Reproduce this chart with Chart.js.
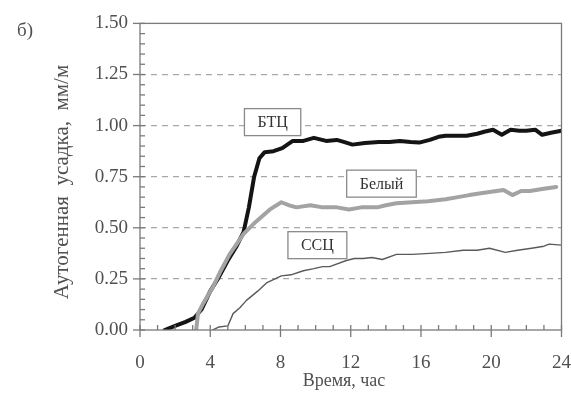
<!DOCTYPE html>
<html>
<head>
<meta charset="utf-8">
<script src="https://cdn.jsdelivr.net/npm/chart.js@4"></script>
<style>
  body { margin: 0; background: #fff; }
  #wrap { width: 571px; height: 403px; }
</style>
</head>
<body>
<div id="wrap"><canvas id="chart" width="571" height="403"></canvas></div>
<script>
// Аутогенная усадка по времени
const btcHours  = [1.4, 2.0, 2.6, 3.1, 3.5, 4.0, 4.5, 5.0, 5.5, 5.9, 6.2, 6.5, 6.8, 7.1, 7.6, 8.1, 8.7, 9.3, 9.9, 10.6, 11.2, 11.6, 12.1, 12.8, 13.6, 14.2, 14.8, 15.4, 15.9, 16.5, 17.0, 17.4, 18.0, 18.6, 19.2, 19.6, 20.1, 20.6, 21.1, 21.6, 22.0, 22.5, 22.9, 23.4, 24.0];
const btcValues = [0.00, 0.02, 0.04, 0.06, 0.10, 0.19, 0.26, 0.34, 0.41, 0.48, 0.60, 0.75, 0.84, 0.87, 0.875, 0.89, 0.925, 0.925, 0.94, 0.925, 0.93, 0.92, 0.907, 0.915, 0.92, 0.92, 0.925, 0.92, 0.917, 0.93, 0.945, 0.95, 0.95, 0.95, 0.96, 0.97, 0.98, 0.955, 0.98, 0.975, 0.975, 0.98, 0.955, 0.965, 0.975];

const whiteHours  = [3.2, 3.3, 3.6, 4.15, 4.6, 5.1, 5.5, 5.9, 6.6, 7.4, 8.05, 8.5, 8.9, 9.7, 10.4, 11.2, 11.9, 12.6, 13.5, 14.0, 14.6, 15.5, 16.4, 17.4, 18.1, 18.75, 19.5, 20.3, 20.7, 21.2, 21.7, 22.2, 22.9, 23.7];
const whiteValues = [0.00, 0.08, 0.13, 0.21, 0.29, 0.37, 0.42, 0.47, 0.53, 0.59, 0.625, 0.61, 0.60, 0.61, 0.60, 0.60, 0.59, 0.60, 0.60, 0.61, 0.62, 0.625, 0.63, 0.64, 0.65, 0.66, 0.67, 0.68, 0.685, 0.66, 0.68, 0.68, 0.69, 0.70];

const sscHours  = [4.15, 4.5, 5.0, 5.3, 5.7, 6.06, 6.7, 7.2, 8.05, 8.6, 9.3, 9.9, 10.4, 10.8, 11.75, 12.2, 12.7, 13.2, 13.8, 14.6, 15.5, 16.5, 17.4, 18.4, 19.2, 19.9, 20.8, 21.5, 22.3, 23.0, 23.3, 24.0];
const sscValues = [0.00, 0.015, 0.02, 0.08, 0.11, 0.145, 0.19, 0.23, 0.265, 0.27, 0.29, 0.30, 0.31, 0.31, 0.34, 0.35, 0.35, 0.355, 0.345, 0.37, 0.37, 0.375, 0.38, 0.39, 0.39, 0.40, 0.38, 0.39, 0.40, 0.41, 0.42, 0.415];

// подписи кривых (в единицах осей)
const curveLabels = ['БТЦ', 'Белый', 'ССЦ'];
const curveLabelX = [7.55, 13.75, 10.1];
const curveLabelY = [1.017, 0.716, 0.415];

const xTitle = 'Время, час';
const yTitle = 'Аутогенная  усадка,  мм/м';
const panelTag = 'б)';

const SERIF = '"Liberation Serif", "DejaVu Serif", serif';
const AXIS = '#7a7a7a';
const TEXT = '#505050';
const NONE = 'rgba(0,0,0,0)';

function toPoints(xs, ys) {
    return xs.map((v, i) => ({ x: v, y: ys[i] }));
}

const decor = {
    id: 'decor',
    afterDraw(chart) {
        const { ctx, chartArea: a, scales: { x, y } } = chart;
        ctx.save();

        // рамка
        ctx.strokeStyle = AXIS;
        ctx.lineWidth = 1.3;
        ctx.strokeRect(a.left, a.top, a.right - a.left, a.bottom - a.top);

        // засечки по X: каждый час, главные через 4
        for (let h = 0; h <= 24; h++) {
            const px = x.getPixelForValue(h);
            const major = h % 4 === 0;
            ctx.beginPath();
            ctx.moveTo(px, a.bottom + (major ? 7 : 0));
            ctx.lineTo(px, a.bottom - 5);
            ctx.stroke();
        }
        // засечки по Y: через 0.05, главные через 0.25
        for (let i = 0; i <= 30; i++) {
            const py = y.getPixelForValue(i * 0.05);
            const major = i % 5 === 0;
            ctx.beginPath();
            ctx.moveTo(a.left - (major ? 7 : 0), py);
            ctx.lineTo(a.left + 5, py);
            ctx.stroke();
        }

        // подписи в рамках
        ctx.font = '16px ' + SERIF;
        ctx.textAlign = 'center';
        ctx.textBaseline = 'middle';
        curveLabels.forEach((t, i) => {
            const cx = x.getPixelForValue(curveLabelX[i]);
            const cy = y.getPixelForValue(curveLabelY[i]);
            const w = ctx.measureText(t).width + 26;
            const h = 27;
            ctx.fillStyle = '#fff';
            ctx.fillRect(cx - w / 2, cy - h / 2, w, h);
            ctx.strokeStyle = '#8a8a8a';
            ctx.lineWidth = 1.3;
            ctx.strokeRect(cx - w / 2, cy - h / 2, w, h);
            ctx.fillStyle = '#333';
            ctx.fillText(t, cx, cy + 1);
        });

        // заголовки осей
        ctx.fillStyle = TEXT;
        ctx.font = '18px ' + SERIF;
        ctx.fillText(xTitle, 344, 381);
        ctx.font = '19px ' + SERIF;
        ctx.fillText(panelTag, 25, 31);

        ctx.save();
        ctx.translate(62, 182);
        ctx.rotate(-Math.PI / 2);
        ctx.font = '21px ' + SERIF;
        ctx.fillText(yTitle, 0, 0);
        ctx.restore();

        ctx.restore();
    }
};

new Chart(document.getElementById('chart'), {
    type: 'line',
    data: {
        datasets: [{
            label: 'ССЦ',
            data: toPoints(sscHours, sscValues),
            borderColor: '#5a5a5a',
            borderWidth: 1.4
        }, {
            label: 'Белый',
            data: toPoints(whiteHours, whiteValues),
            borderColor: '#a3a3a3',
            borderWidth: 4
        }, {
            label: 'БТЦ',
            data: toPoints(btcHours, btcValues),
            borderColor: '#141414',
            borderWidth: 4
        }]
    },
    options: {
        responsive: false,
        animation: false,
        layout: { padding: { left: 0, top: 19, right: 9, bottom: 0 } },
        elements: {
            point: { radius: 0 },
            line: { tension: 0, fill: false, borderJoinStyle: 'round', borderCapStyle: 'round' }
        },
        plugins: {
            legend: { display: false },
            tooltip: { enabled: false }
        },
        scales: {
            x: {
                type: 'linear',
                min: 0,
                max: 24,
                afterFit: (s) => { s.height = 73; },
                grid: { color: NONE, tickColor: NONE, drawTicks: true, tickLength: 22 },
                border: { display: false },
                ticks: {
                    stepSize: 4,
                    padding: 0,
                    color: TEXT,
                    font: { family: SERIF, size: 19 }
                }
            },
            y: {
                min: 0,
                max: 1.5,
                afterFit: (s) => { s.width = 140; },
                grid: {
                    drawTicks: false,
                    color: (c) => (c.tick && (c.tick.value === 0 || c.tick.value === 1.5)) ? NONE : '#a8a8a8',
                    lineWidth: 1.2
                },
                border: { display: false, dash: [6, 5] },
                ticks: {
                    stepSize: 0.25,
                    padding: 12,
                    color: TEXT,
                    font: { family: SERIF, size: 19 },
                    callback: (v) => v.toFixed(2)
                }
            }
        }
    },
    plugins: [decor]
});
</script>
</body>
</html>
